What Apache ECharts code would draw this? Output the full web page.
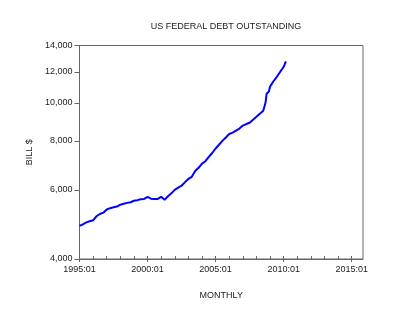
<!DOCTYPE html>
<html>
<head>
<meta charset="utf-8">
<script src="https://cdn.jsdelivr.net/npm/echarts@6/dist/echarts.min.js"></script>
<style>html,body{margin:0;padding:0;background:#fff}#c{width:400px;height:320px}</style>
</head>
<body>
<div id="c"></div>
<script>
const titleText = 'US FEDERAL DEBT OUTSTANDING';
const xName = 'MONTHLY';
const yName = 'BILL $';
const months = ['1995:01','1995:04','1995:07','1995:10','1996:01','1996:04','1996:07','1996:10',
  '1997:01','1997:04','1997:07','1997:10','1998:01','1998:04','1998:07','1998:10',
  '1999:01','1999:04','1999:07','1999:10','2000:01','2000:04','2000:07','2000:10',
  '2001:01','2001:04','2001:07','2001:10','2002:01','2002:04','2002:07','2002:10',
  '2003:01','2003:04','2003:07','2003:10','2004:01','2004:04','2004:07','2004:10',
  '2005:01','2005:04','2005:07','2005:10','2006:01','2006:04','2006:07','2006:10',
  '2007:01','2007:04','2007:07','2007:10','2008:01','2008:04','2008:07','2008:09',
  '2008:10','2008:11','2008:12','2009:01','2009:04','2009:07','2009:10','2010:01','2010:03'];
const debt = [4856,4900,4960,4990,5020,5140,5210,5250,
  5350,5390,5420,5440,5500,5530,5560,5580,
  5630,5650,5680,5690,5760,5700,5690,5690,
  5760,5660,5780,5880,6000,6080,6150,6280,
  6400,6480,6700,6830,7000,7100,7280,7450,
  7650,7820,8000,8160,8330,8400,8500,8600,
  8750,8830,8900,9060,9220,9380,9550,10000,
  10550,10620,10690,11000,11350,11650,12000,12350,12750];
const yTicks = [4000,6000,8000,10000,12000,14000];
const xMajor = [1995,2000,2005,2010,2015];
const xMinor = [1995,1996,1997,1998,1999,2000,2001,2002,2003,2004,2005,2006,2007,2008,2009,2010,2011,2012,2013,2014,2015];

const toX = s => { const p = s.split(':'); return +p[0] + (+p[1]-1)/12; };
const pts = months.map((m,i) => [toX(m), debt[i]]);
const fmtNum = v => String(v).replace(/\B(?=(\d{3})+(?!\d))/g, ',');
const font = 'Liberation Sans, Arial, sans-serif';
const axisCol = '#666';
const XMIN = 1995, XMAX = 2015.83;

const chart = echarts.init(document.getElementById('c'), null, {renderer:'canvas'});
chart.setOption({
  animation: false,
  backgroundColor: '#fff',
  title: {text: titleText, left: 221, top: 17, textAlign: 'center',
    textStyle: {fontFamily: font, fontSize: 9, fontWeight: 'normal', color: '#222'}},
  grid: {left: 79.5, top: 45.5, right: 37, bottom: 61, show: true, borderColor: axisCol, borderWidth: 1, backgroundColor: 'transparent'},
  xAxis: [{
    type: 'value', min: XMIN, max: XMAX, position: 'bottom',
    axisLine: {show: true, lineStyle: {color: axisCol, width: 1}},
    axisTick: {show: true, inside: true, length: 3, customValues: xMinor, lineStyle: {color: axisCol}},
    axisLabel: {show: false},
    splitLine: {show: false}
  },{
    type: 'value', min: XMIN, max: XMAX, position: 'bottom',
    name: xName, nameLocation: 'middle', nameGap: 32,
    nameTextStyle: {fontFamily: font, fontSize: 9, color: '#222'},
    axisLine: {show: false},
    axisTick: {show: true, inside: false, length: 3, customValues: xMajor, lineStyle: {color: axisCol}},
    axisLabel: {show: true, customValues: xMajor, margin: 6, fontFamily: font, fontSize: 9, color: '#222',
      formatter: v => (Math.abs(v - Math.round(v)) < 1e-6 && Math.round(v) % 5 === 0) ? Math.round(v) + ':01' : ''},
    splitLine: {show: false}
  }],
  yAxis: {
    type: 'log', logBase: 10, min: 4000, max: 14000,
    name: yName, nameLocation: 'middle', nameGap: 45, nameRotate: 90,
    nameTextStyle: {fontFamily: font, fontSize: 9, color: '#222'},
    axisLine: {show: true, lineStyle: {color: axisCol, width: 1}},
    axisTick: {show: true, inside: false, length: 5, customValues: yTicks, lineStyle: {color: axisCol}},
    axisLabel: {show: true, customValues: yTicks, margin: 7, fontFamily: font, fontSize: 9, color: '#222',
      formatter: v => fmtNum(Math.round(v))},
    minorTick: {show: false},
    splitLine: {show: false}
  },
  series: [{
    type: 'line', xAxisIndex: 0, data: pts, showSymbol: false, symbol: 'none',
    lineStyle: {color: '#0000ff', width: 2}, clip: true
  }]
});
</script>
</body>
</html>
